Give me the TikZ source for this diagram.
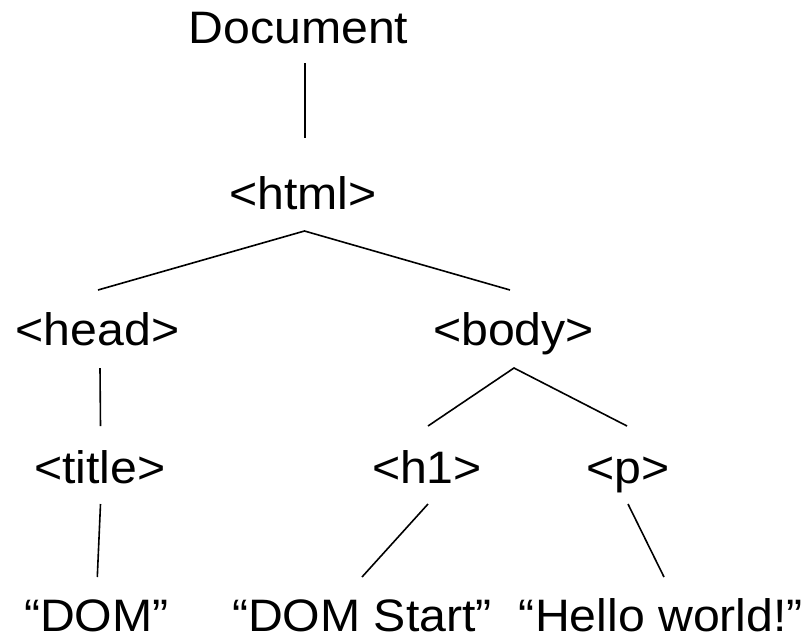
\documentclass[tikz,border=0pt]{standalone}
\usepackage{fontspec}
\setmainfont{Liberation Sans}[FakeStretch=1.06]
\usetikzlibrary{calc}
\begin{document}
\begin{tikzpicture}[x=1pt,y=1pt,
  lbl/.style={anchor=base,inner sep=0pt,font=\fontsize{45.5}{54}\selectfont},
  edge/.style={line width=1.6pt}]
\useasboundingbox (0,0) rectangle (809,-638);
\node[lbl] (doc)   at (298.5,-43.5) {Document};
\node[lbl] (html)  at (303,-209) {<html>};
\node[lbl] (head)  at (97.5,-345) {<head>};
\node[lbl] (body)  at (513.5,-345) {<body>};
\node[lbl] (title) at (99.7,-483) {<title>};
\node[lbl] (h1)    at (427,-483) {<h1>};
\node[lbl] (p)     at (628,-483) {<p>};
\node[lbl] (dom)   at (96.4,-631) {“DOM”};
\node[lbl] (domst) at (362,-631) {“DOM Start”};
\node[lbl] (hello) at (661,-631) {“Hello world!”};
\draw[edge] ($(doc.base)+(6.5,-19.5)$) -- ($(html.base)+(2,71)$);
\draw[edge] ($(head.base)+(0.5,55)$) -- ($(html.base)+(1.5,-22)$) -- ($(body.base)+(-3.5,55)$);
\draw[edge] ($(head.base)+(2.5,-23)$) -- ($(title.base)+(0.8,57)$);
\draw[edge] ($(h1.base)+(1,57)$) -- ($(body.base)+(0.5,-23)$) -- ($(p.base)+(-1,57)$);
\draw[edge] ($(title.base)+(0.8,-21)$) -- ($(dom.base)+(0.9,54)$);
\draw[edge] ($(h1.base)+(1,-21)$) -- ($(domst.base)+(0,54)$);
\draw[edge] ($(p.base)+(0,-21)$) -- ($(hello.base)+(3,54)$);
\end{tikzpicture}
\end{document}
